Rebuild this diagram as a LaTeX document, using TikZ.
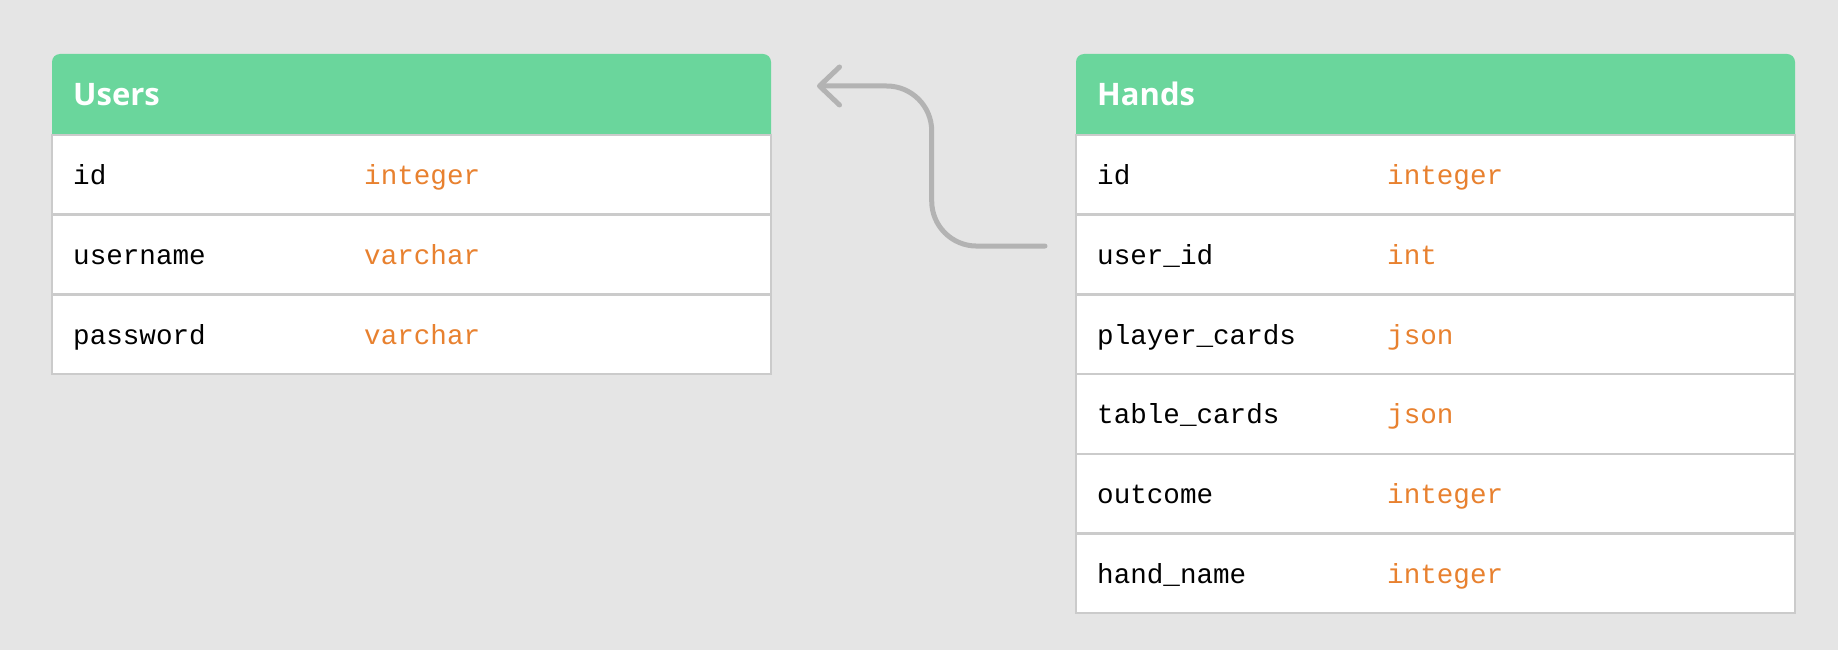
\documentclass[tikz,border=0pt]{standalone}
\usepackage{fontspec}
\setmainfont{Open Sans}
\setmonofont{Liberation Mono}
\usetikzlibrary{arrows.meta,calc}
\definecolor{bg}{HTML}{E5E5E5}
\definecolor{hdr}{HTML}{6AD69C}
\definecolor{rulec}{HTML}{CBCBCB}
\definecolor{typ}{HTML}{E8812F}
\definecolor{connc}{HTML}{B3B3B3}
\tikzset{
  hdrbox/.style={fill=hdr, rounded corners=8pt, minimum width=719pt, minimum height=90pt, anchor=north west, inner sep=0pt, outer sep=0pt},
  rowbox/.style={draw=rulec, line width=2.5pt, fill=white, minimum width=719pt, minimum height=79.7pt, anchor=north west, inner sep=0pt, outer sep=0pt},
  fname/.style={anchor=base west, font=\fontsize{27.6}{30}\ttfamily, text=black, inner sep=0pt},
  ftype/.style={fname, text=typ},
  htext/.style={anchor=base west, font=\fontsize{31}{35}\selectfont\bfseries, text=white, inner sep=0pt},
  connline/.style={draw=connc, line width=5pt, line cap=round, line join=round, rounded corners=45pt}
}
\begin{document}
\begin{tikzpicture}[x=1pt,y=-1pt]
\useasboundingbox[fill=bg] (0,0) rectangle (1838,650);
% Users table
\node[hdrbox] (uh) at (52,54) {};
\node[htext] (uht) at (73,106) {Users};
\foreach \i/\n/\t in {1/id/integer,2/username/varchar,3/password/varchar}{
  \node[rowbox] (u\i) at (52,{135+(\i-1)*79.7}) {};
  \node[fname] (un\i) at ($(u\i.west)+(21,10)$) {\n};
  \node[ftype] (ut\i) at ($(u\i.west)+(312,10)$) {\t};
}
% Hands table
\node[hdrbox] (hh) at (1076,54) {};
\node[htext] (hht) at (1097,106) {Hands};
\foreach \i/\n/\t in {1/id/integer,2/user\_id/int,3/player\_cards/json,4/table\_cards/json,5/outcome/integer,6/hand\_name/integer}{
  \node[rowbox] (h\i) at (1076,{135+(\i-1)*79.7}) {};
  \node[fname] (hn\i) at ($(h\i.west)+(21,10)$) {\n};
  \node[ftype] (ht\i) at ($(h\i.west)+(311,10)$) {\t};
}
% connector
\coordinate (cfrom) at ($(h2.west)+(-31,-8.5)$);
\coordinate (cto) at ($(uh.east)+(46,-13)$);
\draw[connline, -{Straight Barb[length=20pt,width=38pt,round]}] (cfrom) -- (cfrom -| {931.7,0}) -- (cto -| {931.7,0}) -- (cto);
\end{tikzpicture}
\end{document}
